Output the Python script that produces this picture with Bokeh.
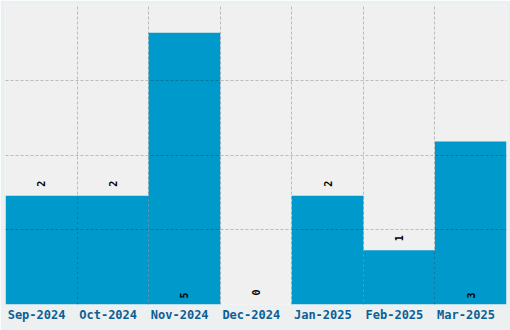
import math
from bokeh.plotting import figure
from bokeh.models import ColumnDataSource, FixedTicker, Range1d, LinearAxis
from bokeh.core.properties import value
from bokeh.embed import file_html
from bokeh.resources import INLINE

months = ["Sep-2024", "Oct-2024", "Nov-2024", "Dec-2024", "Jan-2025", "Feb-2025", "Mar-2025"]
counts = [2, 2, 5, 0, 2, 1, 3]

n = len(months)
ymax = max(counts) * 1.1
xs = [i + 0.5 for i in range(n)]
inside = [c >= 3 for c in counts]
label_y = [0 if ins else c for c, ins in zip(counts, inside)]
label_off = [-9 if ins else -12 for ins in inside]

src = ColumnDataSource(dict(x=xs, top=counts, ly=label_y, loff=label_off,
                            lab=[str(c) for c in counts]))

label_shift = 0.066  # tick labels sit slightly left of bar centres
p = figure(width=510, height=330, output_backend="svg", toolbar_location=None,
           x_range=Range1d(0, n), y_range=Range1d(0, ymax),
           x_axis_location=None, y_axis_location=None,
           min_border_left=5, min_border_right=4, min_border_top=5, min_border_bottom=26)
p.extra_x_ranges = {"lab": Range1d(label_shift, n + label_shift)}
p.background_fill_color = "#f0f0f0"
p.border_fill_color = "#ecf0f1"
p.outline_line_color = None

p.vbar(x="x", top="top", width=1.0, bottom=0, source=src, color="#0099cc", line_color=None)
p.text(x="x", y="ly", text="lab", source=src, angle=math.pi / 2, y_offset="loff",
       text_align="center", text_baseline="middle", text_color="black",
       text_font=value("DejaVu Sans Mono"), text_font_size="10px", text_font_style="bold")

ax = LinearAxis(x_range_name="lab", ticker=FixedTicker(ticks=xs),
                major_label_overrides={x: m for x, m in zip(xs, months)})
ax.axis_line_color = None
ax.major_tick_line_color = None
ax.minor_tick_line_color = None
ax.major_tick_out = 0
ax.major_tick_in = 0
ax.minor_tick_out = 0
ax.major_label_standoff = 3
ax.major_label_text_font = "DejaVu Sans Mono"
ax.major_label_text_font_style = "bold"
ax.major_label_text_font_size = "12px"
ax.major_label_text_color = "#0b5f96"
p.add_layout(ax, "below")

p.xgrid.ticker = FixedTicker(ticks=list(range(1, n)))
p.ygrid.ticker = FixedTicker(ticks=[ymax / 4 * i for i in range(1, 4)])
for g in (p.xgrid, p.ygrid):
    g.grid_line_color = "black"
    g.grid_line_alpha = 0.22
    g.grid_line_dash = "3 2"
    g.level = "overlay"

open("out.html", "w").write(file_html(p, INLINE))
